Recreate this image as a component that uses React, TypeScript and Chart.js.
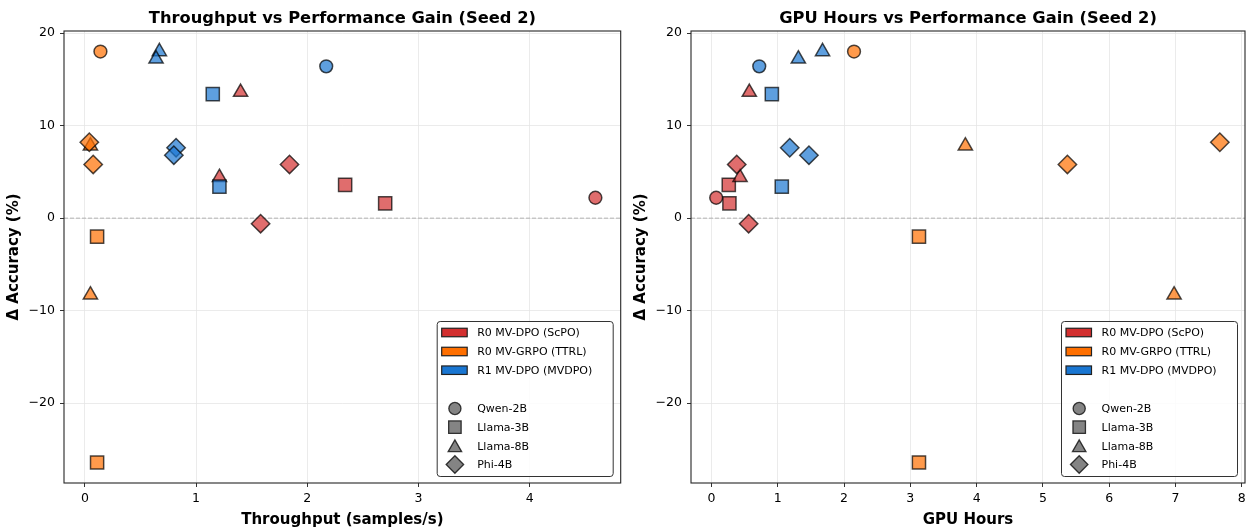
import React, { useEffect, useRef } from 'react';
import { Chart, registerables } from 'chart.js';
Chart.register(...registerables);

// ---------------- data ----------------
const methodLabels = ['R0 MV-DPO (ScPO)', 'R0 MV-GRPO (TTRL)', 'R1 MV-DPO (MVDPO)'];
const methodColors = ['#d32f2f', '#ff6f00', '#1976d2'];
const methodFills = ['rgba(211,47,47,0.7)', 'rgba(255,111,0,0.7)', 'rgba(25,118,210,0.7)'];
const modelLabels = ['Qwen-2B', 'Llama-3B', 'Llama-8B', 'Phi-4B'];
const runModels = ['Qwen-2B', 'Llama-3B', 'Llama-3B', 'Llama-8B', 'Llama-8B', 'Phi-4B', 'Phi-4B'];

const scpoThroughput = [4.59, 2.34, 2.7, 1.4, 1.21, 1.84, 1.58];
const scpoGpuHours = [0.07, 0.26, 0.27, 0.57, 0.43, 0.38, 0.56];
const scpoAccuracy = [2.2, 3.6, 1.6, 13.6, 4.4, 5.8, -0.6];

const ttrlThroughput = [0.14, 0.11, 0.11, 0.05, 0.05, 0.04, 0.075];
const ttrlGpuHours = [2.15, 3.13, 3.13, 3.83, 6.98, 7.67, 5.37];
const ttrlAccuracy = [18.0, -2.0, -26.4, 7.8, -8.3, 8.2, 5.8];

const mvdpoThroughput = [2.17, 1.15, 1.21, 0.67, 0.64, 0.82, 0.8];
const mvdpoGpuHours = [0.72, 0.91, 1.06, 1.675, 1.31, 1.18, 1.47];
const mvdpoAccuracy = [16.4, 13.4, 3.4, 18.0, 17.2, 7.6, 6.8];

const throughputTicks = [0, 1, 2, 3, 4];
const gpuTicks = [0, 1, 2, 3, 4, 5, 6, 7, 8];
const accuracyTicks = [-20, -10, 0, 10, 20];

// ---------------- styling ----------------
const FONT = "'DejaVu Sans', sans-serif";
const markerStyle: Record<string, string> = {
  'Qwen-2B': 'circle',
  'Llama-3B': 'rect',
  'Llama-8B': 'triangle',
  'Phi-4B': 'rectRot',
};
const markerRadius: Record<string, number> = {
  circle: 6.4,
  rect: 9.3,
  triangle: 8.2,
  rectRot: 9.2,
};
const EDGE = 'rgba(0,0,0,0.7)';

function limits(values: number[]) {
  const mn = Math.min(...values);
  const mx = Math.max(...values);
  const m = (mx - mn) * 0.05;
  return [mn - m, mx + m];
}

function drawMarker(ctx: CanvasRenderingContext2D, style: string, x: number, y: number, r: number) {
  ctx.beginPath();
  if (style === 'circle') {
    ctx.arc(x, y, r, 0, Math.PI * 2);
  } else if (style === 'rect') {
    const s = Math.SQRT1_2 * r;
    ctx.rect(x - s, y - s, 2 * s, 2 * s);
  } else if (style === 'triangle') {
    const a = (2 * Math.PI) / 3;
    ctx.moveTo(x, y - r);
    ctx.lineTo(x + Math.sin(a) * r, y - Math.cos(a) * r);
    ctx.lineTo(x + Math.sin(2 * a) * r, y - Math.cos(2 * a) * r);
    ctx.closePath();
  } else {
    ctx.moveTo(x - r, y);
    ctx.lineTo(x, y - r);
    ctx.lineTo(x + r, y);
    ctx.lineTo(x, y + r);
    ctx.closePath();
  }
  ctx.fill();
  ctx.stroke();
}

const panelPlugin = {
  id: 'panelDecor',
  beforeDatasetsDraw(chart: any) {
    const { ctx, chartArea } = chart;
    const y0 = chart.scales.y.getPixelForValue(0);
    ctx.save();
    ctx.strokeStyle = 'rgba(128,128,128,0.55)';
    ctx.lineWidth = 1;
    ctx.setLineDash([4, 2]);
    ctx.beginPath();
    ctx.moveTo(chartArea.left, y0);
    ctx.lineTo(chartArea.right, y0);
    ctx.stroke();
    ctx.restore();
  },
  afterDraw(chart: any) {
    const { ctx, chartArea } = chart;
    const opts = chart.options.plugins.panelDecor;
    ctx.save();
    // frame
    ctx.strokeStyle = '#262626';
    ctx.lineWidth = 1.1;
    ctx.strokeRect(chartArea.left, chartArea.top, chartArea.right - chartArea.left, chartArea.bottom - chartArea.top);
    // title
    ctx.fillStyle = '#000';
    ctx.font = `bold 16.3px ${FONT}`;
    ctx.textAlign = 'center';
    ctx.textBaseline = 'alphabetic';
    ctx.fillText(opts.title, (chartArea.left + chartArea.right) / 2, 23);

    // legend
    const w = 176;
    const h = 155;
    const right = chartArea.right - 7.5;
    const bottom = chartArea.bottom - 6.5;
    const L = right - w;
    const T = bottom - h;
    ctx.beginPath();
    (ctx as any).roundRect ? (ctx as any).roundRect(L, T, w, h, 3) : ctx.rect(L, T, w, h);
    ctx.fillStyle = 'rgba(255,255,255,0.85)';
    ctx.fill();
    ctx.strokeStyle = '#333';
    ctx.lineWidth = 1;
    ctx.stroke();

    ctx.font = `11px ${FONT}`;
    ctx.textAlign = 'left';
    ctx.textBaseline = 'middle';
    const methodRows = [11, 30, 48.7];
    methodLabels.forEach((lab, i) => {
      const cy = T + methodRows[i];
      ctx.fillStyle = methodColors[i];
      ctx.strokeStyle = '#222';
      ctx.lineWidth = 1.2;
      ctx.fillRect(L + 4.5, cy - 4.25, 25.5, 8.5);
      ctx.strokeRect(L + 4.5, cy - 4.25, 25.5, 8.5);
      ctx.fillStyle = '#000';
      ctx.fillText(lab, L + 40, cy + 0.5);
    });
    const modelRows = [87, 105.7, 124.7, 143];
    modelLabels.forEach((lab, i) => {
      const cy = T + modelRows[i];
      const st = markerStyle[lab];
      ctx.fillStyle = 'rgba(110,110,110,0.85)';
      ctx.strokeStyle = 'rgba(0,0,0,0.75)';
      ctx.lineWidth = 1.3;
      drawMarker(ctx, st, L + 17.7, cy + (st === 'triangle' ? 1.5 : 0), markerRadius[st] * 0.95);
      ctx.fillStyle = '#000';
      ctx.fillText(lab, L + 40, cy + 0.5);
    });
    ctx.restore();
  },
};

const xsThroughput = [scpoThroughput, ttrlThroughput, mvdpoThroughput];
const xsGpu = [scpoGpuHours, ttrlGpuHours, mvdpoGpuHours];
const accs = [scpoAccuracy, ttrlAccuracy, mvdpoAccuracy];

type PanelProps = {
  title: string;
  xTitle: string;
  xs: number[][];
  xTicks: number[];
  left: number;
  width: number;
  padRight: number;
};

function Panel({ title, xTitle, xs, xTicks, left, width, padRight }: PanelProps) {
  const ref = useRef<HTMLCanvasElement>(null);
  useEffect(() => {
    if (!ref.current) return;
    const [xmin, xmax] = limits(xs.flat());
    const [ymin, ymax] = limits(accs.flat());
    const datasets = methodLabels.map((lab, i) => {
      const styles = runModels.map((m) => markerStyle[m]);
      return {
        label: lab,
        data: xs[i].map((x, j) => ({ x, y: accs[i][j] })),
        pointStyle: styles,
        pointRadius: styles.map((s) => markerRadius[s]),
        pointHoverRadius: styles.map((s) => markerRadius[s]),
        backgroundColor: methodFills[i],
        borderColor: EDGE,
        borderWidth: 1.5,
        order: 3 - i,
      };
    });
    const chart = new Chart(ref.current, {
      type: 'scatter',
      data: { datasets } as any,
      plugins: [panelPlugin],
      options: {
        responsive: false,
        animation: false,
        events: [],
        layout: { autoPadding: false, padding: { top: 31, right: padRight, bottom: 0, left: 0 } },
        plugins: {
          legend: { display: false },
          tooltip: { enabled: false },
          title: { display: false },
          panelDecor: { title },
        } as any,
        scales: {
          x: {
            type: 'linear',
            min: xmin,
            max: xmax,
            afterBuildTicks: (s: any) => {
              s.ticks = xTicks.map((v) => ({ value: v }));
            },
            afterFit: (s: any) => {
              s.height = 46;
              s.paddingLeft = 0;
              s.paddingRight = 0;
            },
            ticks: {
              color: '#000',
              font: { family: FONT, size: 12.5 },
              padding: 4,
              callback: (v: any) => String(v),
            },
            grid: { color: '#e6e6e6', lineWidth: 0.8, tickLength: 4, tickColor: '#333', tickWidth: 1 },
            border: { display: false },
            title: {
              display: true,
              text: xTitle,
              color: '#000',
              font: { family: FONT, size: 15, weight: 'bold' },
              padding: { top: 5, bottom: 0 },
            },
          },
          y: {
            type: 'linear',
            min: ymin,
            max: ymax,
            afterBuildTicks: (s: any) => {
              s.ticks = accuracyTicks.map((v) => ({ value: v }));
            },
            afterFit: (s: any) => {
              s.width = 64;
              s.paddingTop = 0;
              s.paddingBottom = 0;
            },
            ticks: {
              color: '#000',
              font: { family: FONT, size: 12.5 },
              padding: 5,
              callback: (v: any) => (v < 0 ? '\u2212' + Math.abs(v) : String(v)),
            },
            grid: { color: '#e6e6e6', lineWidth: 0.8, tickLength: 4, tickColor: '#333', tickWidth: 1 },
            border: { display: false },
            title: {
              display: true,
              text: '\u0394 Accuracy (%)',
              color: '#000',
              font: { family: FONT, size: 15, weight: 'bold' },
              padding: { top: 5, bottom: 0 },
            },
          },
        },
      } as any,
    });
    return () => chart.destroy();
  }, []);
  return (
    <canvas
      ref={ref}
      width={width}
      height={529}
      style={{ position: 'absolute', left, top: 0, width, height: 529 }}
    />
  );
}

export default function App() {
  return (
    <div style={{ position: 'absolute', left: 0, top: 0, width: 1253, height: 529, background: '#fff' }}>
      <Panel
        title="Throughput vs Performance Gain (Seed 2)"
        xTitle="Throughput (samples/s)"
        xs={xsThroughput}
        xTicks={throughputTicks}
        left={0}
        width={627}
        padRight={6.3}
      />
      <Panel
        title="GPU Hours vs Performance Gain (Seed 2)"
        xTitle="GPU Hours"
        xs={xsGpu}
        xTicks={gpuTicks}
        left={627}
        width={626}
        padRight={8}
      />
    </div>
  );
}
